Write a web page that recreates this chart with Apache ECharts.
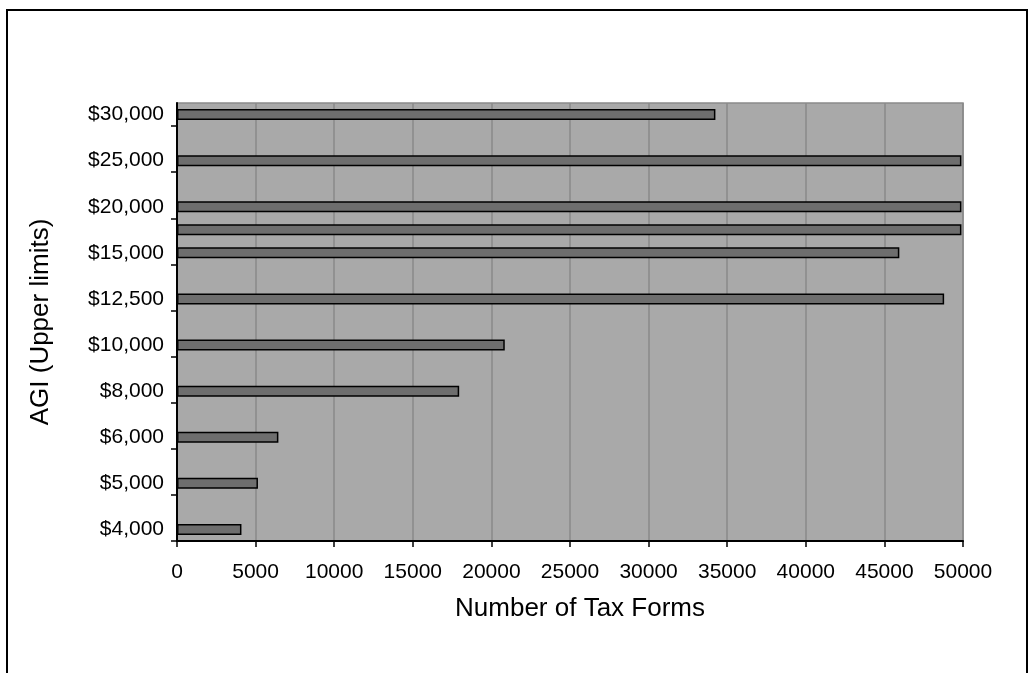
<!DOCTYPE html>
<html>
<head>
<meta charset="utf-8">
<title>Number of Tax Forms by AGI</title>
<script src="https://cdn.jsdelivr.net/npm/echarts@6/dist/echarts.min.js"></script>
<style>
  html, body { margin: 0; padding: 0; background: #ffffff; }
  #wrap { position: relative; width: 1036px; height: 673px; overflow: hidden; }
  #frame {
    position: absolute; left: 6px; top: 9px; width: 1022px; height: 720px;
    border: 2px solid #000; box-sizing: border-box;
  }
  #chart { position: absolute; left: 0; top: 0; width: 1036px; height: 673px; }
</style>
</head>
<body>
<div id="wrap">
  <div id="frame"></div>
  <div id="chart"></div>
</div>
<script>
// AGI brackets (upper limits); every other slot carries no label of its own
const agiLabels = ['$4,000', '', '$5,000', '', '$6,000', '', '$8,000', '', '$10,000', '',
                   '$12,500', '', '$15,000', '', '$20,000', '', '$25,000', '', '$30,000'];
// Number of tax forms filed in each slot
const taxForms = [4100, null, 5150, null, 6450, null, 17950, null, 20850, null,
                  48800, null, 45950, 49900, 49900, null, 49900, null, 34250];
// Value-axis ticks
const formTicks = [0, 5000, 10000, 15000, 20000, 25000, 30000, 35000, 40000, 45000, 50000];
// Category tick marks fall on every second slot boundary
const slotTicks = [0, 2, 4, 6, 8, 10, 12, 14, 16, 18];

const font = '"Liberation Sans", Arial, sans-serif';
const chart = echarts.init(document.getElementById('chart'), null, { renderer: 'canvas' });

chart.setOption({
  backgroundColor: 'transparent',
  animation: false,
  grid: {
    left: 177, right: 73, top: 103, bottom: 132,
    show: true,
    backgroundColor: '#a9a9a9',
    borderColor: '#8a8a8a',
    borderWidth: 1.5
  },
  xAxis: {
    type: 'value',
    min: formTicks[0],
    max: formTicks[formTicks.length - 1],
    interval: formTicks[1] - formTicks[0],
    name: 'Number of Tax Forms',
    nameLocation: 'middle',
    nameGap: 55,
    nameTextStyle: { fontFamily: font, fontSize: 26, color: '#000', padding: [0, 0, 0, 20] },
    axisLine: { show: true, lineStyle: { color: '#000', width: 2 } },
    axisTick: { show: true, length: 6, lineStyle: { color: '#000', width: 1.5 } },
    axisLabel: {
      fontFamily: font, fontSize: 21, color: '#000', margin: 21,
      formatter: function (v) { return String(v); }
    },
    splitLine: { show: true, lineStyle: { color: '#8a8a8a', width: 1.5 } }
  },
  yAxis: [
    {
      type: 'category',
      data: agiLabels,
      name: 'AGI (Upper limits)',
      nameLocation: 'middle',
      nameGap: 123,
      nameTextStyle: { fontFamily: font, fontSize: 26, color: '#000' },
      axisLine: { show: true, lineStyle: { color: '#000', width: 2 } },
      axisTick: { show: false },
      axisLabel: { fontFamily: font, fontSize: 21, color: '#000', margin: 13, interval: 0 },
      splitLine: { show: false }
    },
    {
      // carries only the slot-boundary tick marks
      type: 'value',
      position: 'left',
      min: 0,
      max: agiLabels.length,
      axisLine: { show: false },
      axisLabel: { show: false },
      splitLine: { show: false },
      axisTick: {
        show: true, length: 6, customValues: slotTicks,
        lineStyle: { color: '#000', width: 1.5 }
      }
    }
  ],
  series: [{
    type: 'bar',
    yAxisIndex: 0,
    data: taxForms,
    barWidth: 11,
    itemStyle: { color: '#6e6e6e', borderColor: '#000', borderWidth: 1.5 }
  }]
});
</script>
</body>
</html>
